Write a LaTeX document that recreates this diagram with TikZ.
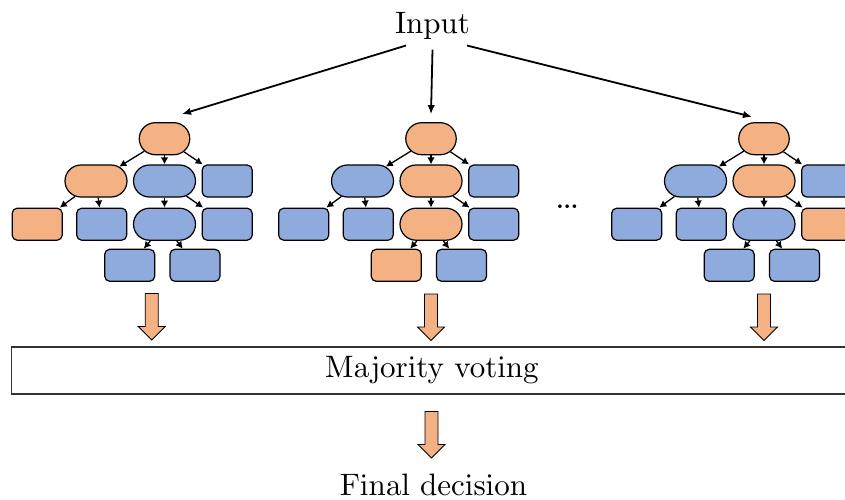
\documentclass[tikz,border=0pt]{standalone}
\usetikzlibrary{shapes.misc,arrows.meta}
\definecolor{orng}{RGB}{244,177,131}
\definecolor{blu}{RGB}{143,170,220}
\font\labelfont=cmr10 at 31pt
\font\dotfont=cmbx10 at 23pt

\begin{document}
\begin{tikzpicture}[x=1pt,y=-1pt,
  oval/.style={rounded rectangle, draw, line width=1.2pt, minimum height=32pt, minimum width=62pt, inner sep=0pt},
  leaf/.style={rectangle, rounded corners=5pt, draw, line width=1.2pt, minimum height=32pt, minimum width=50pt, inner sep=0pt},
  hit/.style={fill=orng}, miss/.style={fill=blu},
  treeedge/.style={line width=1.3pt, -{Latex[length=7pt,width=7.5pt]}},
  inarrow/.style={line width=1.8pt, -{Latex[length=9pt,width=7.5pt]}},
  blockarrow/.pic={\draw[fill=orng, line width=0.9pt, line join=miter]
    (-6.5,0) -- (6.5,0) -- (6.5,33) -- (13.5,33) -- (0,46.5) -- (-13.5,33) -- (-6.5,33) -- cycle;}
]
\clip (0,0) rectangle (845,500);

% input
\node[font=\labelfont, inner sep=10pt, anchor=base] (in) at (432.5,33.3) {Input};

% first tree
\begin{scope}
  \node[oval,hit,minimum width=50.5pt] (t1r) at (164.5,138.7) {};
  \node[oval,hit]  (t1a) at (96,181) {};
  \node[oval,miss] (t1b) at (164.5,181) {};
  \node[leaf,miss] (t1c) at (227.2,181) {};
  \node[leaf,hit]  (t1d) at (37.2,224.2) {};
  \node[leaf,miss] (t1e) at (101.7,224.2) {};
  \node[oval,miss] (t1f) at (164.5,224.2) {};
  \node[leaf,miss] (t1g) at (227.2,224.2) {};
  \node[leaf,miss] (t1h) at (129.7,265.3) {};
  \node[leaf,miss] (t1i) at (195,265.3) {};
\end{scope}
\foreach \p/\c in {t1r/t1a,t1r/t1b,t1r/t1c,t1a/t1d,t1a/t1e,t1b/t1f,t1b/t1g,t1f/t1h,t1f/t1i}
  \draw[treeedge] (\p) -- (\c);

% second tree
\begin{scope}[xshift=266.5pt]
  \node[oval,hit,minimum width=50.5pt] (t2r) at (164.5,138.7) {};
  \node[oval,miss] (t2a) at (96,181) {};
  \node[oval,hit]  (t2b) at (164.5,181) {};
  \node[leaf,miss] (t2c) at (227.2,181) {};
  \node[leaf,miss] (t2d) at (37.2,224.2) {};
  \node[leaf,miss] (t2e) at (101.7,224.2) {};
  \node[oval,hit]  (t2f) at (164.5,224.2) {};
  \node[leaf,miss] (t2g) at (227.2,224.2) {};
  \node[leaf,hit]  (t2h) at (129.7,265.3) {};
  \node[leaf,miss] (t2i) at (195,265.3) {};
\end{scope}
\foreach \p/\c in {t2r/t2a,t2r/t2b,t2r/t2c,t2a/t2d,t2a/t2e,t2b/t2f,t2b/t2g,t2f/t2h,t2f/t2i}
  \draw[treeedge] (\p) -- (\c);

% third tree
\begin{scope}[xshift=599.5pt]
  \node[oval,hit,minimum width=50.5pt] (t3r) at (164.5,138.7) {};
  \node[oval,miss] (t3a) at (96,181) {};
  \node[oval,hit]  (t3b) at (164.5,181) {};
  \node[leaf,miss] (t3c) at (227.2,181) {};
  \node[leaf,miss] (t3d) at (37.2,224.2) {};
  \node[leaf,miss] (t3e) at (101.7,224.2) {};
  \node[oval,miss] (t3f) at (164.5,224.2) {};
  \node[leaf,hit]  (t3g) at (227.2,224.2) {};
  \node[leaf,miss] (t3h) at (129.7,265.3) {};
  \node[leaf,miss] (t3i) at (195,265.3) {};
\end{scope}
\foreach \p/\c in {t3r/t3a,t3r/t3b,t3r/t3c,t3a/t3d,t3a/t3e,t3b/t3f,t3b/t3g,t3f/t3h,t3f/t3i}
  \draw[treeedge] (\p) -- (\c);

% ellipsis between the trees
\node[font=\dotfont, anchor=base, inner sep=0pt] (dots) at (567.3,208) {...};

% input to each tree
\draw[inarrow] ([xshift=-26.5pt,yshift=4pt]in.south) -- ([xshift=17.5pt,yshift=8pt]t1r.north);
\draw[inarrow] (in.south) -- ([yshift=8pt]t2r.north);
\draw[inarrow] ([xshift=34.5pt,yshift=4pt]in.south) -- ([xshift=-12pt,yshift=5.3pt]t3r.north);

% votes
\pic at (151.7,293.5) {blockarrow};
\pic at (431,294) {blockarrow};
\pic at (764,294) {blockarrow};

\node[draw=black!80, line width=1.2pt, minimum width=840.6pt, minimum height=47pt, inner sep=0pt,
      font=\labelfont] (vote) at (432,370.4) {Majority voting};

\pic at (431.5,411.5) {blockarrow};

\node[font=\labelfont, anchor=base, inner sep=0pt] (final) at (433.5,495.5) {Final decision};
\end{tikzpicture}
\end{document}
